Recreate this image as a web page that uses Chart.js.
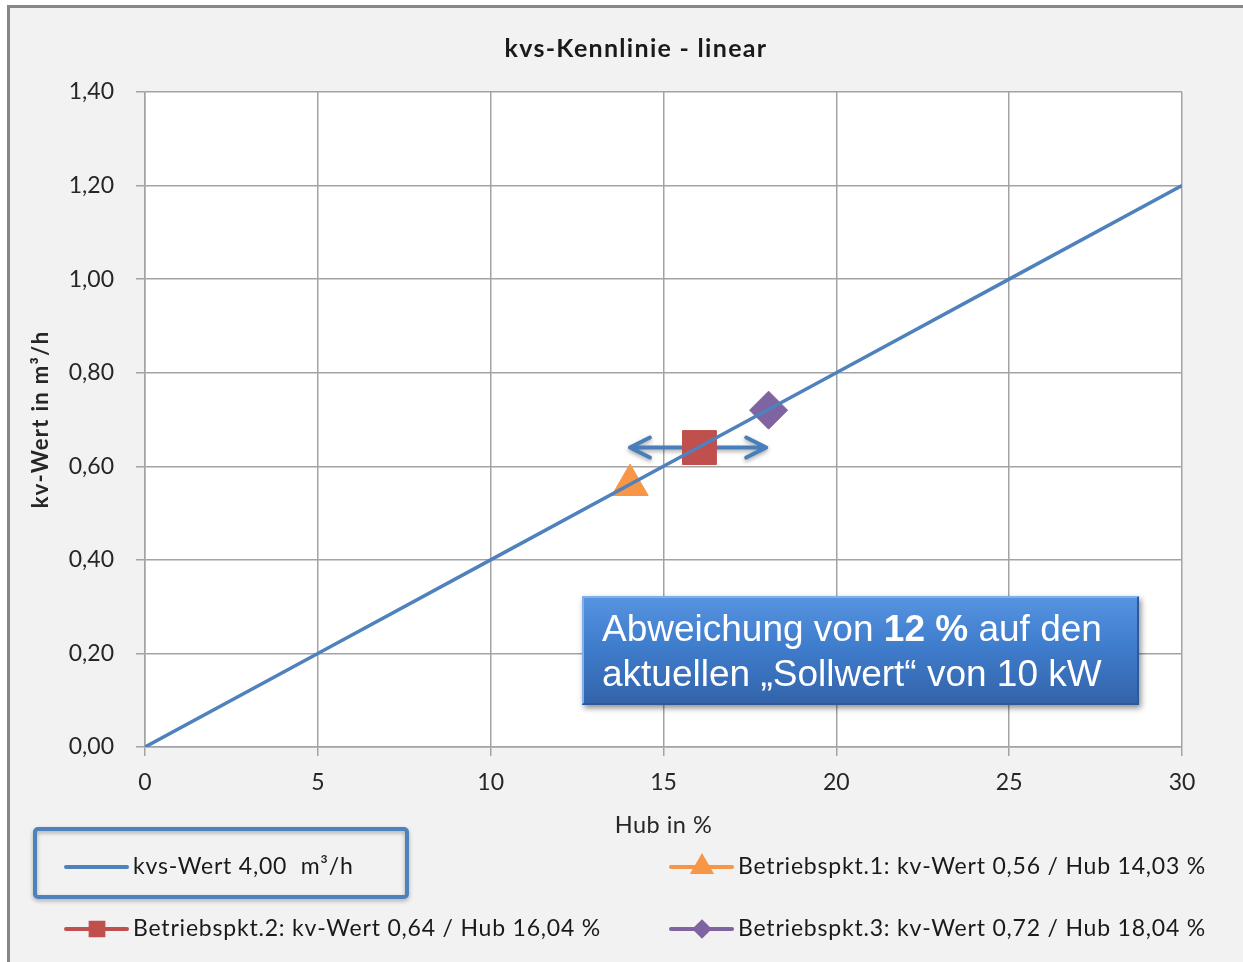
<!DOCTYPE html>
<html>
<head>
<meta charset="utf-8">
<script src="https://cdn.jsdelivr.net/npm/chart.js"></script>
<style>
html, body { margin: 0; padding: 0; background: #fff; }
canvas { display: block; }
</style>
</head>
<body>
<canvas id="kennlinie" width="1243" height="962"></canvas>
<script>
// Daten der Kennlinie
const titel = 'kvs-Kennlinie - linear'
const xTitel = 'Hub in %'
const yTitel = 'kv-Wert in m³/h'

const hub = [0, 5, 10, 15, 20, 25, 30]
const kvWert = [0, 0.2, 0.4, 0.6, 0.8, 1.0, 1.2]
const linienName = 'kvs-Wert 4,00  m³/h'

// Betriebspunkte
const punktNamen = [
  'Betriebspkt.1: kv-Wert 0,56 / Hub 14,03 %',
  'Betriebspkt.2: kv-Wert 0,64 / Hub 16,04 %',
  'Betriebspkt.3: kv-Wert 0,72 / Hub 18,04 %'
]
const punktHub = [14.03, 16.04, 18.04]
const punktKv = [0.56, 0.64, 0.72]

// Achsen
const xTicks = [0, 5, 10, 15, 20, 25, 30]
const yTicks = [0, 0.2, 0.4, 0.6, 0.8, 1.0, 1.2, 1.4]

// Doppelpfeil (Hub von/bis bei kv)
const pfeilHub = [14, 18]
const pfeilKv = 0.64

// Hinweistext
const hinweisZeile1 = [['Abweichung von ', false], ['12 %', true], [' auf den', false]]
const hinweisZeile2 = 'aktuellen „Sollwert“ von 10 kW'

const farben = ['#4f81bd', '#f79646', '#c0504d', '#8064a2']
const formen = ['line', 'triangle', 'rect', 'rectRot']
const groessen = [0, 21, 24, 19]
const legendeGroessen = [0, 10, 9, 7]

const schrift = 'Lato, "Open Sans", sans-serif'
const textFarbe = '#262626'

const hintergrund = {
  id: 'hintergrund',
  beforeDraw(chart) {
    const { ctx, chartArea: a, width, height } = chart
    ctx.save()
    ctx.fillStyle = '#ffffff'
    ctx.fillRect(0, 0, width, height)
    ctx.fillStyle = '#f2f2f2'
    ctx.fillRect(8, 6, width, height)
    ctx.strokeStyle = '#878787'
    ctx.lineWidth = 3
    ctx.beginPath()
    ctx.moveTo(8.5, height)
    ctx.lineTo(8.5, 6.5)
    ctx.lineTo(width, 6.5)
    ctx.stroke()
    ctx.fillStyle = '#ffffff'
    ctx.fillRect(a.left, a.top, a.right - a.left, a.bottom - a.top)
    ctx.restore()
  }
}

const pfeil = {
  id: 'pfeil',
  beforeDatasetsDraw(chart) {
    const { ctx, scales } = chart
    const x1 = scales.x.getPixelForValue(pfeilHub[0])
    const x2 = scales.x.getPixelForValue(pfeilHub[1])
    const y = scales.y.getPixelForValue(pfeilKv)
    ctx.save()
    ctx.shadowColor = 'rgba(0,0,0,0.35)'
    ctx.shadowBlur = 4
    ctx.shadowOffsetY = 2
    ctx.strokeStyle = '#4a7ebb'
    ctx.lineWidth = 4
    ctx.lineCap = 'round'
    ctx.lineJoin = 'round'
    ctx.beginPath()
    ctx.moveTo(x1 + 2, y)
    ctx.lineTo(x2 - 2, y)
    ctx.moveTo(x1 + 21, y - 10)
    ctx.lineTo(x1 + 1, y)
    ctx.lineTo(x1 + 21, y + 10)
    ctx.moveTo(x2 - 21, y - 10)
    ctx.lineTo(x2 - 1, y)
    ctx.lineTo(x2 - 21, y + 10)
    ctx.stroke()
    ctx.restore()
  }
}

const hinweis = {
  id: 'hinweis',
  afterDatasetsDraw(chart) {
    const ctx = chart.ctx
    const b = { x: 582, y: 596, w: 557, h: 109 }
    ctx.save()
    ctx.shadowColor = 'rgba(0,0,0,0.45)'
    ctx.shadowBlur = 6
    ctx.shadowOffsetX = 2
    ctx.shadowOffsetY = 3
    const g = ctx.createLinearGradient(0, b.y, 0, b.y + b.h)
    g.addColorStop(0, '#5795e2')
    g.addColorStop(0.45, '#3f7dcd')
    g.addColorStop(1, '#3363a9')
    ctx.fillStyle = g
    ctx.fillRect(b.x, b.y, b.w, b.h)
    ctx.restore()
    ctx.save()
    ctx.strokeStyle = '#7fb0ec'
    ctx.lineWidth = 2
    ctx.beginPath()
    ctx.moveTo(b.x + 1, b.y + b.h - 1)
    ctx.lineTo(b.x + 1, b.y + 1)
    ctx.lineTo(b.x + b.w - 1, b.y + 1)
    ctx.stroke()
    ctx.strokeStyle = '#2d5a9a'
    ctx.beginPath()
    ctx.moveTo(b.x + b.w - 1, b.y + 1)
    ctx.lineTo(b.x + b.w - 1, b.y + b.h - 1)
    ctx.lineTo(b.x + 1, b.y + b.h - 1)
    ctx.stroke()

    ctx.fillStyle = '#ffffff'
    ctx.textBaseline = 'alphabetic'
    ctx.textAlign = 'left'
    let x = b.x + 20
    hinweisZeile1.forEach(([t, fett]) => {
      ctx.font = (fett ? 'bold ' : '') + '37px "Liberation Sans", Arial, sans-serif'
      ctx.fillText(t, x, b.y + 45)
      x += ctx.measureText(t).width
    })
    ctx.font = '37px "Liberation Sans", Arial, sans-serif'
    ctx.fillText(hinweisZeile2, b.x + 20, b.y + 90)
    ctx.restore()
  }
}

const titelUndLegende = {
  id: 'titelUndLegende',
  afterDraw(chart) {
    const { ctx, chartArea: a } = chart
    ctx.save()
    ctx.fillStyle = '#1a1a1a'
    ctx.textAlign = 'center'
    ctx.textBaseline = 'middle'
    ctx.font = 'bold 25px ' + schrift
    ctx.letterSpacing = '1.3px'
    ctx.fillText(titel, 636, 49)

    // Achsentitel
    ctx.fillStyle = textFarbe
    ctx.font = '23.5px ' + schrift
    ctx.letterSpacing = '0.5px'
    ctx.fillText(xTitel, (a.left + a.right) / 2, 825)
    ctx.save()
    ctx.translate(41, (a.top + a.bottom) / 2)
    ctx.rotate(-Math.PI / 2)
    ctx.font = 'bold 22px ' + schrift
    ctx.letterSpacing = '1.3px'
    ctx.fillText(yTitel, 0, 0)
    ctx.restore()

    // Rahmen um den ersten Legendeneintrag
    ctx.save()
    ctx.shadowColor = 'rgba(0,0,0,0.3)'
    ctx.shadowBlur = 4
    ctx.shadowOffsetY = 2
    ctx.strokeStyle = '#4f81bd'
    ctx.lineWidth = 4
    ctx.beginPath()
    ctx.roundRect(35, 829, 372, 68, 3)
    ctx.stroke()
    ctx.restore()

    const plaetze = [[66, 867], [671, 867], [66, 929], [671, 929]]
    ctx.textAlign = 'left'
    ctx.font = '23px ' + schrift
    ctx.letterSpacing = '0.8px'
    chart.data.datasets.forEach((ds, i) => {
      const [px, py] = plaetze[i]
      ctx.strokeStyle = ds.borderColor
      ctx.fillStyle = ds.backgroundColor
      ctx.lineWidth = 4
      ctx.lineCap = 'round'
      ctx.beginPath()
      ctx.moveTo(px, py)
      ctx.lineTo(px + 61, py)
      ctx.stroke()
      if (formen[i] !== 'line') {
        Chart.helpers.drawPoint(ctx, { pointStyle: formen[i], radius: legendeGroessen[i], rotation: 0, borderWidth: 1 }, px + 31, py)
      }
      ctx.fillStyle = '#1a1a1a'
      ctx.fillText(ds.label, px + 67, py)
    })
    ctx.restore()
  }
}

const datensaetze = [{
  label: linienName,
  data: hub.map((h, i) => ({ x: h, y: kvWert[i] })),
  showLine: true,
  borderColor: farben[0],
  backgroundColor: farben[0],
  borderWidth: 3.5,
  pointRadius: 0
}]
punktNamen.forEach((name, i) => {
  datensaetze.push({
    label: name,
    data: [{ x: punktHub[i], y: punktKv[i] }],
    showLine: false,
    borderColor: farben[i + 1],
    backgroundColor: farben[i + 1],
    pointStyle: formen[i + 1],
    pointRadius: groessen[i + 1],
    pointBorderWidth: 1
  })
})

const gitter = '#a3a3a3'
const komma = v => Number(v).toFixed(2).replace('.', ',')

new Chart(document.getElementById('kennlinie'), {
  type: 'scatter',
  data: { datasets: datensaetze },
  options: {
    responsive: false,
    animation: false,
    devicePixelRatio: 1,
    events: [],
    layout: { padding: { left: 29, right: 61, top: 92, bottom: 125 } },
    plugins: {
      legend: { display: false },
      title: { display: false },
      tooltip: { enabled: false }
    },
    scales: {
      x: {
        type: 'linear',
        min: xTicks[0],
        max: xTicks[xTicks.length - 1],
        afterBuildTicks: s => { s.ticks = xTicks.map(v => ({ value: v })) },
        afterFit: s => { s.height = 90; s.paddingLeft = 0; s.paddingRight = 0 },
        grid: { color: gitter, lineWidth: 1.5, tickLength: 9 },
        border: { color: gitter, width: 1.5 },
        ticks: { color: textFarbe, font: { family: schrift, size: 23 }, padding: 13 }
      },
      y: {
        type: 'linear',
        min: yTicks[0],
        max: yTicks[yTicks.length - 1],
        afterBuildTicks: s => { s.ticks = yTicks.map(v => ({ value: v })) },
        afterFit: s => { s.width = 116 },
        grid: { color: gitter, lineWidth: 1.5, tickLength: 9 },
        border: { color: gitter, width: 1.5 },
        ticks: { color: textFarbe, font: { family: schrift, size: 23 }, padding: 22, callback: komma }
      }
    }
  },
  plugins: [hintergrund, pfeil, hinweis, titelUndLegende]
})
</script>
</body>
</html>
